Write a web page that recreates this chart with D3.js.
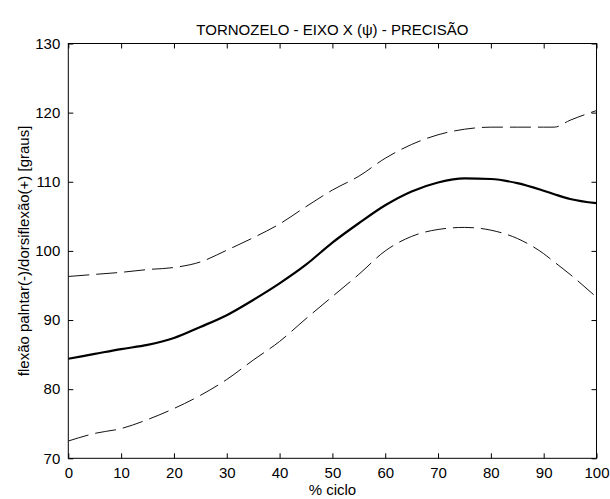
<!DOCTYPE html>
<html>
<head>
<meta charset="utf-8">
<script src="https://cdn.jsdelivr.net/npm/d3@7"></script>
<style>
  body { margin: 0; background: #fff; }
  text { font-family: "Liberation Sans", Arial, sans-serif; fill: #000; }
</style>
</head>
<body>
<div id="chart"></div>
<script>
const w = 610;
const h = 499;
const padL = 68.3, padR = 596.5, padT = 43.5, padB = 458.3;

// % of cycle
const cycle = [0, 5, 10, 15, 20, 25, 30, 35, 40, 45, 50, 55, 60, 65, 70, 75, 80, 85, 90, 92, 95, 100];
// mean curve
const mean  = [84.4, 85.1, 85.8, 86.4, 87.4, 89.0, 90.7, 92.9, 95.3, 98.0, 101.2, 104.0, 106.6, 108.6, 109.9, 110.5, 110.4, 109.8, 108.7, 108.2, 107.5, 106.9];
// mean + sd
const upper = [96.3, 96.6, 96.9, 97.3, 97.6, 98.4, 100.1, 101.9, 103.9, 106.4, 108.8, 110.8, 113.4, 115.4, 116.8, 117.6, 117.9, 117.9, 117.9, 117.9, 118.9, 120.3];
// mean - sd
const lower = [72.5, 73.6, 74.3, 75.6, 77.2, 79.1, 81.4, 84.2, 86.9, 90.2, 93.4, 96.6, 100.0, 102.1, 103.1, 103.4, 103.0, 101.8, 99.6, 98.4, 96.6, 93.3];

const xTicks = [0, 10, 20, 30, 40, 50, 60, 70, 80, 90, 100];
const yTicks = [70, 80, 90, 100, 110, 120, 130];

const svg = d3.select('#chart')
  .append('svg')
  .attr('width', w)
  .attr('height', h);

let xScale = d3.scaleLinear().domain([0, 100]).range([padL, padR]);
let yScale = d3.scaleLinear().domain([70, 130]).range([padB, padT]);

// axes, ticks pointing inward like matlab
function styleAxis(g) {
  g.select('.domain').remove();
  g.selectAll('line').attr('stroke', '#000');
  g.selectAll('text').attr('font-size', '15px').attr('font-family', '"Liberation Sans", Arial, sans-serif');
}

svg.append('g')
  .attr('transform', 'translate(0,' + padB + ')')
  .call(d3.axisBottom(xScale).tickValues(xTicks).tickSizeInner(-5).tickSizeOuter(0).tickPadding(9))
  .call(styleAxis);

svg.append('g')
  .attr('transform', 'translate(0,' + padT + ')')
  .call(d3.axisTop(xScale).tickValues(xTicks).tickSizeInner(-5).tickSizeOuter(0).tickFormat(''))
  .call(styleAxis);

svg.append('g')
  .attr('transform', 'translate(' + padL + ',0)')
  .call(d3.axisLeft(yScale).tickValues(yTicks).tickSizeInner(-5).tickSizeOuter(0).tickPadding(8))
  .call(styleAxis);

svg.append('g')
  .attr('transform', 'translate(' + padR + ',0)')
  .call(d3.axisRight(yScale).tickValues(yTicks).tickSizeInner(-5).tickSizeOuter(0).tickFormat(''))
  .call(styleAxis);

svg.append('rect')
  .attr('x', padL).attr('y', padT)
  .attr('width', padR - padL).attr('height', padB - padT)
  .attr('fill', 'none').attr('stroke', '#000').attr('stroke-width', 1);

let line = function(vals) {
  return d3.line()
    .x(function(d, i) { return xScale(cycle[i]); })
    .y(function(d) { return yScale(d); })
    .curve(d3.curveMonotoneX)(vals);
};

svg.append('path').attr('d', line(upper))
  .attr('fill', 'none').attr('stroke', '#111').attr('stroke-width', 1)
  .attr('stroke-dasharray', '21,7');

svg.append('path').attr('d', line(lower))
  .attr('fill', 'none').attr('stroke', '#111').attr('stroke-width', 1)
  .attr('stroke-dasharray', '21,7');

svg.append('path').attr('d', line(mean))
  .attr('fill', 'none').attr('stroke', '#000').attr('stroke-width', 2.2);

svg.append('text')
  .attr('x', (padL + padR) / 2).attr('y', 35)
  .attr('text-anchor', 'middle').attr('font-size', '15px')
  .text('TORNOZELO - EIXO X (\u03c8) - PRECISÃO');

svg.append('text')
  .attr('x', (padL + padR) / 2).attr('y', 495)
  .attr('text-anchor', 'middle').attr('font-size', '15px')
  .text('% ciclo');

svg.append('text')
  .attr('transform', 'translate(29,' + ((padT + padB) / 2) + ') rotate(-90)')
  .attr('text-anchor', 'middle').attr('font-size', '15px')
  .text('flexão palntar(-)/dorsiflexão(+) [graus]');
</script>
</body>
</html>
